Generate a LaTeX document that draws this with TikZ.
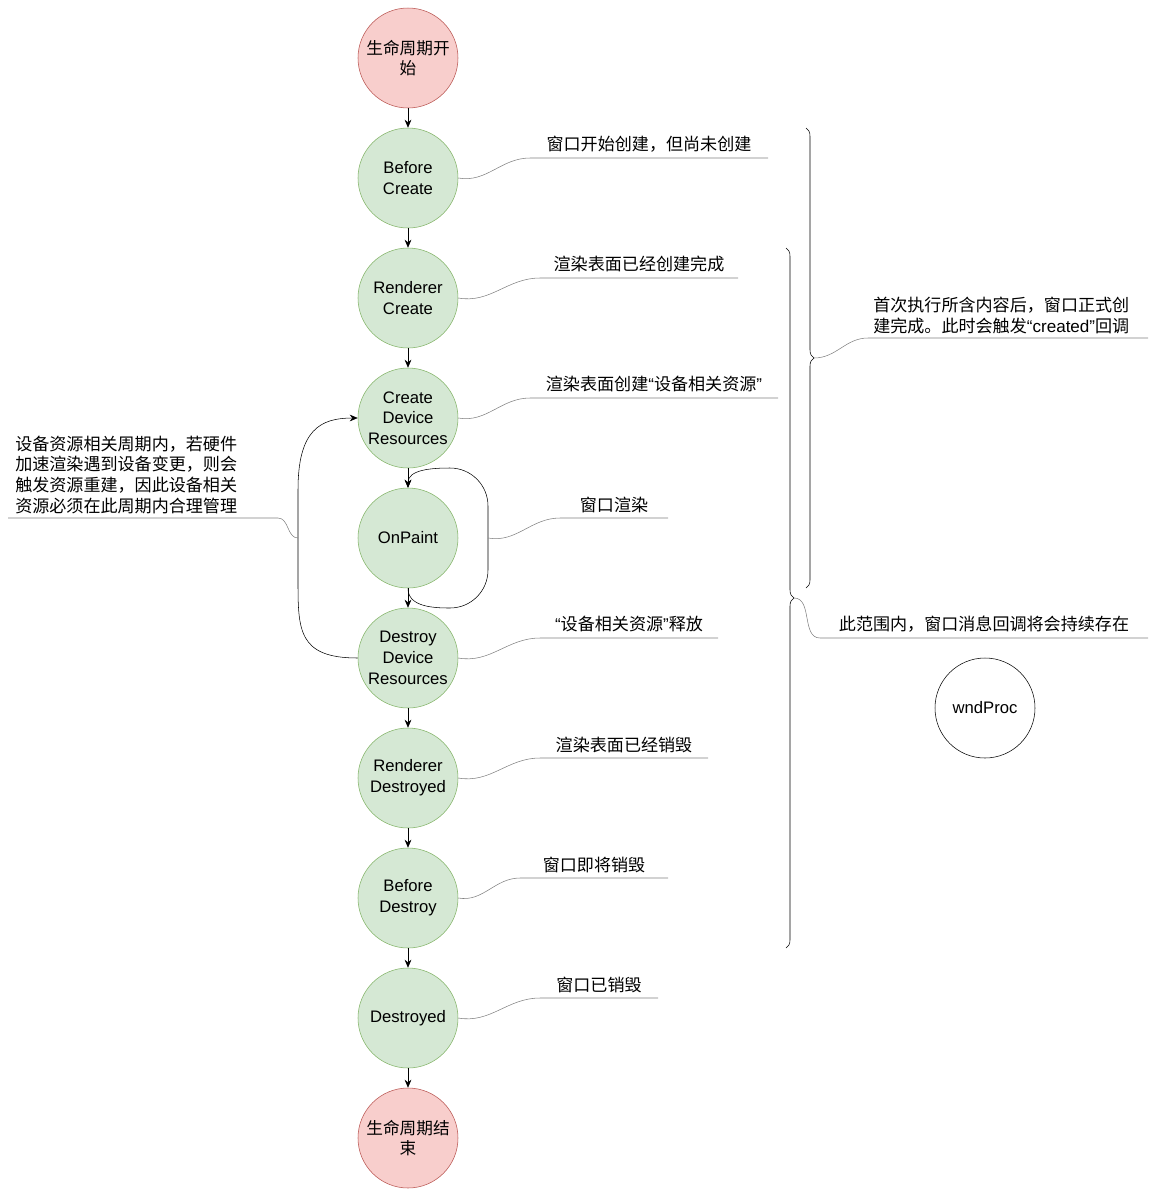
\documentclass[tikz,border=0pt]{standalone}
\usepackage{fontspec}
\setmainfont{Noto Sans CJK SC}
\newfontfamily\latin{Liberation Sans}
\usetikzlibrary{arrows.meta,decorations.pathreplacing,calc}

\newcommand{\oq}{{\latin “}}
\newcommand{\cq}{{\latin ”}}

\tikzset{
  phase/.style={circle,draw=green!50!black!60,fill=green!15,minimum size=75pt,inner sep=0pt,align=center,font=\latin\fontsize{12.5pt}{15.5pt}\selectfont},
  endpoint/.style={phase,draw=red!60!black!70,fill=red!18,font=\fontsize{12.5pt}{15.5pt}\selectfont},
  flow/.style={-{Stealth[length=6pt,width=5pt]},black},
  note/.style={draw=gray,thin},
  notetext/.style={font=\fontsize{12.8pt}{15.5pt}\selectfont,inner sep=0pt}
}

\begin{document}
\begin{tikzpicture}[x=0.75pt,y=-0.75pt]
  \useasboundingbox (0,0) rectangle (1157,1197);
  \definecolor{pg}{HTML}{D5E8D4}\definecolor{pgd}{HTML}{82B366}
  \definecolor{pr}{HTML}{F8CECC}\definecolor{prd}{HTML}{B85450}
  \tikzset{phase/.append style={fill=pg,draw=pgd},endpoint/.append style={fill=pr,draw=prd}}

  \node[endpoint] (start) at (408,58) {生命周期开\\始};
  \node[phase] (bc) at (408,178) {Before\\Create};
  \node[phase] (rc) at (408,298) {Renderer\\Create};
  \node[phase] (cdr) at (408,418) {Create\\Device\\Resources};
  \node[phase] (op) at (408,538) {OnPaint};
  \node[phase] (ddr) at (408,658) {Destroy\\Device\\Resources};
  \node[phase] (rd) at (408,778) {Renderer\\Destroyed};
  \node[phase] (bd) at (408,898) {Before\\Destroy};
  \node[phase] (ds) at (408,1018) {Destroyed};
  \node[endpoint] (end) at (408,1138) {生命周期结\\束};
  \node[circle,draw,minimum size=75pt,font=\latin\fontsize{12.5pt}{15pt}\selectfont] (wp) at (985,708) {wndProc};

  \foreach \a/\b in {start/bc,bc/rc,rc/cdr,cdr/op,op/ddr,ddr/rd,rd/bd,bd/ds,ds/end}
    \draw[flow] (\a) -- (\b);

  % loops
  \draw[flow] (ddr.west) .. controls (298,658) and (298,630) .. (298,580) -- (298,490)
    .. controls (298,430) and (320,418) .. (cdr.west);
  \draw[flow] (op.south) to[out=-90,in=180] (450,608) to[out=0,in=-90] (488,570) -- (488,506)
    to[out=90,in=0] (450,468) to[out=180,in=90] (op.north);

  % callouts
  \foreach \n/\y/\xa/\xb/\t in {bc/158/530/768/窗口开始创建，但尚未创建,
      rc/278/540/738/渲染表面已经创建完成,
      cdr/398/530/778/渲染表面创建\oq 设备相关资源\cq,
      ddr/638/540/718/\oq 设备相关资源\cq 释放,
      rd/758/540/708/渲染表面已经销毁,
      bd/878/520/668/窗口即将销毁,
      ds/998/540/658/窗口已销毁}{
    \coordinate (\n-a) at (\xa,\y);
    \coordinate (\n-b) at (\xb,\y);
    \draw[note] (\n.east) to[out=-10,in=180] (\n-a) -- (\n-b);
    \node[notetext,above=4pt] at ($(\n-a)!0.5!(\n-b)$) {\t};
  }
  \coordinate (op-a) at (560,518);
  \coordinate (op-b) at (668,518);
  \draw[note] (488,538) to[out=-10,in=180] (op-a) -- (op-b);
  \node[notetext,above=4pt] at ($(op-a)!0.5!(op-b)$) {窗口渲染};

  % left note
  \coordinate (ln-a) at (8,518);
  \coordinate (ln-b) at (278,518);
  \draw[note] (ln-a) -- (ln-b) to[out=0,in=180] (298,538);
  \node[notetext,anchor=south west,align=left] at (15,514) {设备资源相关周期内，若硬件\\加速渲染遇到设备变更，则会\\触发资源重建，因此设备相关\\资源必须在此周期内合理管理};

  % braces
  \draw[decorate,decoration={brace,amplitude=6pt}] (806,128) -- (806,588);
  \draw[decorate,decoration={brace,amplitude=6pt}] (786,248) -- (786,948);
  \coordinate (n1-a) at (868,338);
  \coordinate (n1-b) at (1148,338);
  \draw[note] (814,358) to[out=0,in=180] (n1-a) -- (n1-b);
  \node[notetext,anchor=south west,align=left] at (873,334) {首次执行所含内容后，窗口正式创\\建完成。此时会触发\oq{\latin created}\cq 回调};
  \coordinate (n2-a) at (820,638);
  \coordinate (n2-b) at (1148,638);
  \draw[note] (794,598) to[out=0,in=180] (n2-a) -- (n2-b);
  \node[notetext,above=4pt] at ($(n2-a)!0.5!(n2-b)$) {此范围内，窗口消息回调将会持续存在};
\end{tikzpicture}
\end{document}
